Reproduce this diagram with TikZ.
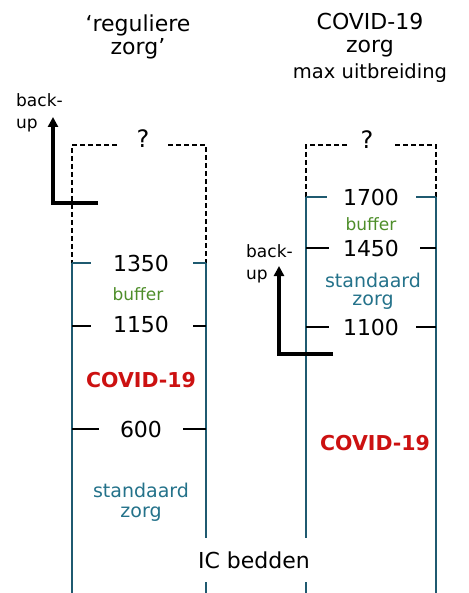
\documentclass[tikz,border=0pt]{standalone}
\usepackage{fontspec}
\setmainfont{DejaVu Sans}
\usetikzlibrary{positioning,arrows.meta}
\definecolor{lijn}{HTML}{1F5A70}
\definecolor{zorgblauw}{HTML}{24728A}
\definecolor{buffergroen}{HTML}{4E8E2A}
\definecolor{covidrood}{HTML}{CC1111}

\begin{document}
\begin{tikzpicture}[x=1pt,y=-1pt,
    wand/.style={draw=lijn,line width=2pt},
    stippel/.style={draw=black,line width=1.8pt,dash pattern=on 5pt off 3pt},
    streep/.style={line width=2.6pt},
    getal/.style={inner sep=0pt,font=\fontsize{22}{24}\selectfont},
    pijl/.style={line width=4.6pt,-{Triangle[length=10pt,width=10pt]}}]
  \useasboundingbox (0,0) rectangle (468,593);

  % titels
  \node[inner sep=0pt,align=center,font=\fontsize{22}{23}\selectfont](titel1) at (138,37) {‘reguliere\\zorg’};
  \node[inner sep=0pt,align=center,font=\fontsize{22}{23}\selectfont](titel2) at (370,35) {COVID-19\\zorg};
  \node[inner sep=0pt,font=\fontsize{19.5}{22}\selectfont,below=6pt of titel2](uitbr){max uitbreiding};

  % kolom reguliere zorg
  \draw[stippel] (117,145) -| (72,263);
  \draw[stippel] (168,145) -| (206,263);
  \draw[wand] (72,263) -- (72,593);
  \draw[wand] (206,263) -- (206,593);
  \draw[streep,lijn] (72,263) -- (91,263) (193,263) -- (206,263);
  \draw[streep] (72,326) -- (91,326) (193,326) -- (206,326);
  \draw[streep] (72,429) -- (99,429) (183,429) -- (206,429);
  \node[getal,font=\fontsize{24}{24}\selectfont](vraag1) at (143,139) {?};
  \node[getal](n1350) at (141,263) {1350};
  \node[inner sep=0pt,text=buffergroen,font=\fontsize{17}{20}\selectfont](buf1) at (138,294) {buffer};
  \node[getal](n1150) at (141,324) {1150};
  \node[inner sep=0pt,text=covidrood,font=\bfseries\fontsize{20.5}{22}\selectfont](covid1) at (141,380) {COVID-19};
  \node[getal](n600) at (141,429) {600};
  \node[inner sep=0pt,align=center,text=zorgblauw,font=\fontsize{19}{20}\selectfont](std1) at (141,502) {standaard\\zorg};

  % kolom COVID-19 zorg
  \draw[stippel] (347,145) -| (306,197);
  \draw[stippel] (395,145) -| (436,197);
  \draw[wand] (306,197) -- (306,593);
  \draw[wand] (436,197) -- (436,593);
  \draw[streep,lijn] (306,197) -- (327,197) (416,197) -- (436,197);
  \draw[streep] (306,248) -- (329,248) (420,248) -- (436,248);
  \draw[streep] (306,327) -- (329,327) (416,327) -- (436,327);
  \node[getal,font=\fontsize{24}{24}\selectfont](vraag2) at (367,140) {?};
  \node[getal](n1700) at (371,197) {1700};
  \node[inner sep=0pt,text=buffergroen,font=\fontsize{17}{20}\selectfont](buf2) at (371,224) {buffer};
  \node[getal](n1450) at (371,248) {1450};
  \node[inner sep=0pt,align=center,text=zorgblauw,font=\fontsize{19}{18}\selectfont](std2) at (373,291) {standaard\\zorg};
  \node[getal](n1100) at (371,327) {1100};
  \node[inner sep=0pt,text=covidrood,font=\bfseries\fontsize{20.5}{22}\selectfont](covid2) at (375,443) {COVID-19};

  % back-up pijlen
  \coordinate (hoek1) at (53,203);
  \coordinate (top1) at (53,117);
  \draw[pijl] (98,203) -- (hoek1) -- (top1);
  \node[inner sep=0pt,align=left,anchor=west,font=\fontsize{17}{22}\selectfont](bu1) at (16,113) {back-\\up};
  \coordinate (hoek2) at (279,354);
  \coordinate (top2) at (279,266);
  \draw[pijl] (333,354) -- (hoek2) -- (top2);
  \node[inner sep=0pt,align=left,anchor=west,font=\fontsize{17}{22}\selectfont](bu2) at (246,264) {back-\\up};

  \node[fill=white,inner xsep=2pt,minimum height=44pt,font=\fontsize{22}{24}\selectfont](ic) at (254,560) {IC bedden};
\end{tikzpicture}
\end{document}
